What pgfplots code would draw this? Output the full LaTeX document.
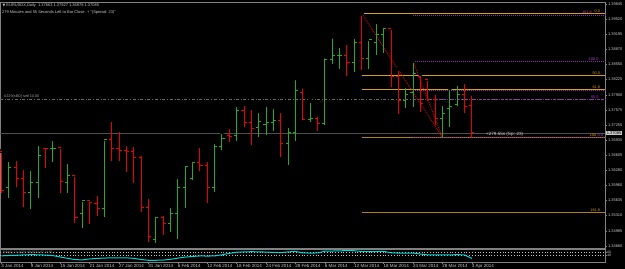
\documentclass[border=0pt]{standalone}
\usepackage{fontspec}
\setmainfont{Liberation Sans}
\newfontfamily\dejavu{DejaVu Sans}
\usepackage{pgfplots}
\usepackage{pgfplotstable}
\pgfplotsset{compat=1.18}
\definecolor{barG}{RGB}{40,170,40}
\definecolor{barR}{RGB}{235,0,0}
\definecolor{fibO}{RGB}{215,155,30}
\definecolor{fibOd}{RGB}{175,128,25}
\definecolor{fibP}{RGB}{150,40,170}
\definecolor{fibPt}{RGB}{170,70,210}
\definecolor{axgray}{RGB}{128,128,128}
\definecolor{bidgray}{RGB}{78,78,78}
\definecolor{sellgray}{RGB}{105,105,105}
\definecolor{txt}{RGB}{200,200,200}
\definecolor{ind}{RGB}{0,215,215}
\pgfdeclareplotmark{otick}{\pgfpathmoveto{\pgfqpoint{-2.6bp}{0pt}}\pgfpathlineto{\pgfqpoint{0.4bp}{0pt}}\pgfusepathqstroke}
\pgfdeclareplotmark{ctick}{\pgfpathmoveto{\pgfqpoint{-0.4bp}{0pt}}\pgfpathlineto{\pgfqpoint{2.6bp}{0pt}}\pgfusepathqstroke}

\pgfplotstableread{
i O H L C
1 1.35902 1.36502 1.35688 1.36331
4 1.35795 1.36309 1.35452 1.36009
5 1.36009 1.36845 1.35688 1.36609
7 1.36738 1.36952 1.36459 1.36759
9 1.36009 1.36459 1.35795 1.36159
11 1.35345 1.35645 1.35045 1.35624
14 1.35452 1.36952 1.35281 1.36931
21 1.34788 1.35302 1.34724 1.35259
23 1.35131 1.35516 1.34959 1.35345
24 1.35345 1.36138 1.34809 1.35902
25 1.35902 1.36395 1.35474 1.36352
26 1.36095 1.36481 1.36074 1.36459
29 1.35902 1.36888 1.35816 1.36781
30 1.36781 1.37102 1.36716 1.36952
32 1.37017 1.37681 1.36909 1.37552
35 1.37188 1.37552 1.36995 1.37317
36 1.37252 1.37681 1.37038 1.37295
37 1.37295 1.37638 1.37124 1.37338
39 1.36845 1.37231 1.36395 1.37081
40 1.37081 1.38259 1.36909 1.38002
42 1.37360 1.37770 1.37320 1.37400
44 1.37290 1.38720 1.37250 1.38660
45 1.38660 1.39150 1.38550 1.38740
46 1.38740 1.38950 1.38450 1.38752
48 1.38581 1.39138 1.38388 1.39010
50 1.38667 1.39095 1.38452 1.39080
51 1.39010 1.39460 1.38752 1.39202
52 1.39202 1.39374 1.38795 1.39310
55 1.37767 1.38088 1.37617 1.37895
56 1.37959 1.38624 1.37638 1.38345
60 1.37381 1.37702 1.36984 1.37488
61 1.37595 1.38045 1.37209 1.37638
62 1.37681 1.38131 1.37659 1.37895
}\greenbars

\pgfplotstableread{
i O H L C
0 1.36674 1.36695 1.35795 1.35838
2 1.36331 1.36524 1.35924 1.36116
3 1.36095 1.36331 1.35495 1.35795
6 1.36759 1.36802 1.36331 1.36738
8 1.36770 1.36781 1.35795 1.36031
10 1.36159 1.36181 1.35152 1.35259
12 1.35624 1.35645 1.35131 1.35581
13 1.35559 1.35774 1.35302 1.35452
15 1.36931 1.37359 1.36481 1.36738
16 1.36738 1.37145 1.36481 1.36716
17 1.36695 1.36845 1.36245 1.36674
18 1.36674 1.36824 1.36009 1.36545
19 1.36545 1.36631 1.35388 1.35474
20 1.35474 1.35709 1.34745 1.34852
22 1.35259 1.35345 1.34895 1.35131
27 1.36438 1.36802 1.36266 1.36374
28 1.36374 1.36502 1.35581 1.35902
31 1.37017 1.37209 1.36888 1.36995
33 1.37552 1.37702 1.37209 1.37295
34 1.37295 1.37617 1.36824 1.37167
38 1.37359 1.37552 1.36566 1.36845
41 1.37950 1.38080 1.37350 1.37360
43 1.37400 1.37480 1.37120 1.37290
47 1.38752 1.39010 1.38302 1.38581
49 1.39010 1.39642 1.38431 1.38667
53 1.39310 1.39331 1.38067 1.38281
54 1.38281 1.38452 1.37488 1.37767
57 1.38302 1.38345 1.37531 1.37702
58 1.38217 1.38238 1.37767 1.37809
59 1.37809 1.37938 1.37252 1.37381
63 1.37895 1.38174 1.37509 1.37659
64 1.37663 1.37927 1.36978 1.37085
}\redbars

\pgfplotstableread{
i v
0 49.2
1 52.3
2 53.8
3 56.9
4 58.5
5 57.7
6 55.4
7 51.5
8 40.0
9 29.2
10 19.2
11 16.9
12 24.6
13 28.5
14 31.5
15 33.1
16 33.1
17 33.1
18 29.2
19 20.0
20 13.8
21 13.8
22 15.4
23 21.5
24 30.8
25 39.2
26 44.6
27 48.5
28 47.7
29 48.5
30 57.7
31 69.2
32 78.5
33 80.8
34 82.3
35 81.5
36 79.2
37 76.9
38 75.4
39 80.8
40 84.6
41 73.1
42 71.5
43 72.3
44 86.2
45 87.7
46 89.2
47 91.5
48 90.0
49 83.8
50 82.3
51 83.8
52 84.6
53 73.8
54 71.5
55 71.5
56 71.5
57 63.8
58 56.9
59 56.2
60 56.2
61 56.2
62 59.2
63 56.2
64 28.5
}\inddata

\begin{document}
\begin{tikzpicture}
\path[use as bounding box, fill=black] (0,-21bp) rectangle (625bp,248bp);

\begin{axis}[
  at={(0,0)}, anchor=south west, scale only axis,
  width=605bp, height=246bp,
  xmin=-0.204, xmax=82.11, ymin=1.34616, ymax=1.39888,
  axis line style={axgray, line width=0.8bp},
  xtick=\empty,
  ytick={1.34660,1.34985,1.35310,1.35635,1.35960,1.36280,1.36605,1.36930,1.37255,1.37575,1.37900,1.38225,1.38550,1.38870,1.39195,1.39520,1.39845},
  yticklabels={1.34660,1.34985,1.35310,1.35635,1.35960,1.36280,1.36605,1.36930,1.37255,1.37575,1.37900,1.38225,1.38550,1.38870,1.39195,1.39520,1.39845},
  ytick pos=right, yticklabel pos=right,
  tick align=outside, major tick length=2bp,
  tick style={axgray, line width=0.5bp},
  yticklabel style={font=\fontsize{4}{4}\selectfont, text=txt, inner sep=0.8pt},
  clip=false,
]
% horizontal reference lines
\addplot[color=bidgray, line width=1bp] coordinates {(-0.204,1.37070) (82.11,1.37070)};
\addplot[color=sellgray, dash dot, line width=1bp] coordinates {(-0.204,1.37799) (82.11,1.37799)};
% orange fibonacci
\addplot[fibO, line width=1bp] coordinates {(49,1.39642) (82.11,1.39642)};
\addplot[fibO, line width=1bp] coordinates {(49,1.38313) (82.11,1.38313)};
\addplot[fibO, line width=1bp] coordinates {(49,1.38013) (82.11,1.38013)};
\addplot[fibOd, line width=1bp] coordinates {(49,1.36984) (82.11,1.36984)};
\addplot[fibOd, line width=1bp] coordinates {(49,1.35377) (82.11,1.35377)};
% purple fibonacci
\addplot[fibP, densely dotted, line width=1bp] coordinates {(56,1.39599) (82.11,1.39599)};
\addplot[fibP, densely dotted, line width=1bp] coordinates {(56,1.38613) (82.11,1.38613)};
\addplot[fibP, densely dotted, line width=1bp] coordinates {(56,1.37992) (82.11,1.37992)};
\addplot[fibP, densely dotted, line width=1bp] coordinates {(56,1.37799) (82.11,1.37799)};
\addplot[fibP, densely dotted, line width=1bp] coordinates {(56,1.36984) (82.11,1.36984)};
% red dotted trend lines
\addplot[barR!90!black, densely dotted, line width=0.9bp] coordinates {(49,1.39642) (60,1.36984)};
\addplot[barR!90!black, densely dotted, line width=0.9bp] coordinates {(56,1.38613) (60,1.36984)};

% green bars
\addplot[only marks, mark=none, error bars/.cd, y dir=minus, y explicit, error mark=none,
  error bar style={solid, line width=1bp, barG}]
  table[x=i, y=H, y error minus expr={\thisrow{H}-\thisrow{L}}] {\greenbars};
\addplot[only marks, mark=otick, barG, mark options={solid, line width=1bp}] table[x=i, y=O] {\greenbars};
\addplot[only marks, mark=ctick, barG, mark options={solid, line width=1bp}] table[x=i, y=C] {\greenbars};
% red bars
\addplot[only marks, mark=none, error bars/.cd, y dir=minus, y explicit, error mark=none,
  error bar style={solid, line width=1bp, barR}]
  table[x=i, y=H, y error minus expr={\thisrow{H}-\thisrow{L}}] {\redbars};
\addplot[only marks, mark=otick, barR, mark options={solid, line width=1bp}] table[x=i, y=O] {\redbars};
\addplot[only marks, mark=ctick, barR, mark options={solid, line width=1bp}] table[x=i, y=C] {\redbars};

% fib labels
\begin{scope}[every node/.style={font=\fontsize{3.8}{3.8}\selectfont, inner sep=0.4pt, anchor=south east}]
\node[text=fibO] at (axis cs:81.5,1.39652) {0.0};
\node[text=fibPt] at (axis cs:80.4,1.39631) {161.8};
\node[text=fibPt] at (axis cs:81.3,1.38624) {100.0};
\node[text=fibO] at (axis cs:81.5,1.38324) {50.0};
\node[text=fibO] at (axis cs:81.5,1.38020) {61.8};
\node[text=fibPt] at (axis cs:81.3,1.37810) {50.0};
\node[text=fibO] at (axis cs:81.0,1.36995) {100};
\node[text=fibPt] at (axis cs:81.9,1.36995) {0.0};
\node[text=fibO] at (axis cs:81.5,1.35380) {161.8};
\end{scope}
% current price box
\node[anchor=west, fill=txt, text=black, inner sep=0.7pt, xshift=1bp, font=\fontsize{4}{4}\selectfont] at (axis cs:82.11,1.37085) {1.37085};
\end{axis}

% indicator panel
\begin{axis}[
  at={(0,-14bp)}, anchor=south west, scale only axis,
  width=605bp, height=12.5bp,
  xmin=-0.204, xmax=82.11, ymin=0, ymax=100,
  axis line style={axgray, line width=0.8bp},
  xtick={0,4,8,12,16,20,24,28,32,36,40,44,48,52,56,60,64},
  xticklabels={3 Jan 2014,9 Jan 2014,15 Jan 2014,21 Jan 2014,27 Jan 2014,31 Jan 2014,6 Feb 2014,12 Feb 2014,18 Feb 2014,24 Feb 2014,28 Feb 2014,6 Mar 2014,12 Mar 2014,18 Mar 2014,24 Mar 2014,28 Mar 2014,3 Apr 2014},
  xtick pos=bottom,
  ytick={52,76}, yticklabels={40,60}, ytick pos=right, yticklabel pos=right,
  tick align=outside, major tick length=1.5bp,
  tick style={axgray, line width=0.5bp},
  xticklabel style={anchor=north west, font=\fontsize{4.5}{4.5}\selectfont, text=txt, inner sep=0.6pt, xshift=-0.8bp},
  yticklabel style={font=\fontsize{3.4}{3.4}\selectfont, text=txt, inner sep=0.6pt},
]
\addplot[white!75!black, dotted, line width=0.8bp] coordinates {(-0.204,76) (82.11,76)};
\addplot[white!75!black, dotted, line width=0.8bp] coordinates {(-0.204,52) (82.11,52)};
\addplot[ind, line width=1bp] table[x=i, y=v] {\inddata};
\end{axis}

% texts
\node[anchor=west, inner sep=0, text=txt, font=\fontsize{4}{4}\selectfont] at (2.5bp,243bp) {{\dejavu\fontsize{3.5}{3.5}\selectfont ▼}\ EURUSDX,Daily\ \ 1.37663 1.37927 1.36978 1.37085};
\node[anchor=west, inner sep=0, text=txt, font=\fontsize{4}{4}\selectfont] at (2bp,236bp) {279 Minutes and 55 Seconds Left to Bar Close. + "(Spread: 23)"};
\node[anchor=west, inner sep=0, text=txt!80!black, font=\fontsize{3.8}{3.8}\selectfont] at (4bp,151bp) {\#229(sl60) sell 10.00};
\node[anchor=west, inner sep=0, text=txt, font=\fontsize{4.6}{4.6}\selectfont] at (486bp,113.5bp) {<279.55s (Sp: 23)};
\node[anchor=west, inner sep=0, text=txt!70!black, font=\fontsize{3.4}{3.4}\selectfont] at (3bp,-4.5bp) {RSI(7) 73.2079 39.9733 67.2155};
\end{tikzpicture}
\end{document}
